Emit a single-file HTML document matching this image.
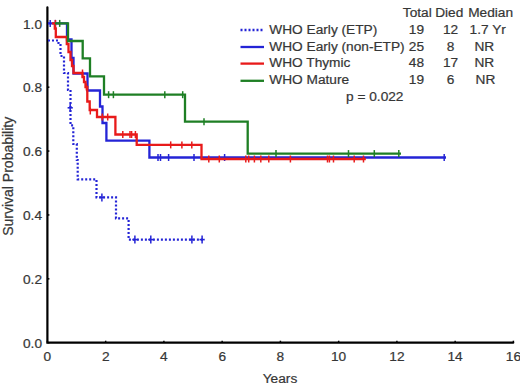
<!DOCTYPE html>
<html><head><meta charset="utf-8"><style>
html,body{margin:0;padding:0;background:#fff;}
body{width:520px;height:389px;overflow:hidden;}
svg{display:block;}
text{font-family:"Liberation Sans",sans-serif;font-size:13.7px;fill:#363636;stroke:#363636;stroke-width:0.22px;}
</style></head><body>
<svg width="520" height="389" viewBox="0 0 520 389">
<path d="M47.4,7.3 V342.7 H513.2" fill="none" stroke="#000" stroke-width="2.2" stroke-linecap="round"/><line x1="47.4" y1="342.7" x2="49.4" y2="342.7" stroke="#000" stroke-width="1.5"/><line x1="47.4" y1="278.82" x2="49.4" y2="278.82" stroke="#000" stroke-width="1.5"/><line x1="47.4" y1="214.94" x2="49.4" y2="214.94" stroke="#000" stroke-width="1.5"/><line x1="47.4" y1="151.05999999999997" x2="49.4" y2="151.05999999999997" stroke="#000" stroke-width="1.5"/><line x1="47.4" y1="87.18" x2="49.4" y2="87.18" stroke="#000" stroke-width="1.5"/><line x1="47.4" y1="23.30000000000001" x2="49.4" y2="23.30000000000001" stroke="#000" stroke-width="1.5"/><line x1="47.4" y1="342.7" x2="47.4" y2="340.7" stroke="#000" stroke-width="1.5"/><line x1="105.65" y1="342.7" x2="105.65" y2="340.7" stroke="#000" stroke-width="1.5"/><line x1="163.9" y1="342.7" x2="163.9" y2="340.7" stroke="#000" stroke-width="1.5"/><line x1="222.15" y1="342.7" x2="222.15" y2="340.7" stroke="#000" stroke-width="1.5"/><line x1="280.4" y1="342.7" x2="280.4" y2="340.7" stroke="#000" stroke-width="1.5"/><line x1="338.65" y1="342.7" x2="338.65" y2="340.7" stroke="#000" stroke-width="1.5"/><line x1="396.9" y1="342.7" x2="396.9" y2="340.7" stroke="#000" stroke-width="1.5"/><line x1="455.15" y1="342.7" x2="455.15" y2="340.7" stroke="#000" stroke-width="1.5"/><line x1="513.4" y1="342.7" x2="513.4" y2="340.7" stroke="#000" stroke-width="1.5"/><text x="42" y="347.9" text-anchor="end">0.0</text><text x="42" y="284.0" text-anchor="end">0.2</text><text x="42" y="220.1" text-anchor="end">0.4</text><text x="42" y="156.3" text-anchor="end">0.6</text><text x="42" y="92.4" text-anchor="end">0.8</text><text x="42" y="28.5" text-anchor="end">1.0</text><text x="47.4" y="361" text-anchor="middle">0</text><text x="105.7" y="361" text-anchor="middle">2</text><text x="163.9" y="361" text-anchor="middle">4</text><text x="222.2" y="361" text-anchor="middle">6</text><text x="280.4" y="361" text-anchor="middle">8</text><text x="338.6" y="361" text-anchor="middle">10</text><text x="396.9" y="361" text-anchor="middle">12</text><text x="455.1" y="361" text-anchor="middle">14</text><text x="513.4" y="361" text-anchor="middle">16</text><text x="280" y="383" text-anchor="middle">Years</text><text transform="translate(13.3,176.3) rotate(-90)" text-anchor="middle" style="font-size:14px">Survival Probability</text><path d="M48,23.4 H67 V39.5 H71.5 V58 H73.5 V73.5 H87.5 V90.5 H100 V106.5 H102.5 V123 H106.4 V140.7 H149.4 V157.5 H446" fill="none" stroke="#2424d6" stroke-width="2.3"/><line x1="50.2" y1="19.9" x2="50.2" y2="26.9" stroke="#2424d6" stroke-width="1.5"/><line x1="55.4" y1="19.9" x2="55.4" y2="26.9" stroke="#2424d6" stroke-width="1.5"/><line x1="158" y1="154.0" x2="158" y2="161.0" stroke="#2424d6" stroke-width="1.5"/><line x1="160.5" y1="154.0" x2="160.5" y2="161.0" stroke="#2424d6" stroke-width="1.5"/><line x1="168.6" y1="154.0" x2="168.6" y2="161.0" stroke="#2424d6" stroke-width="1.5"/><line x1="194" y1="154.0" x2="194" y2="161.0" stroke="#2424d6" stroke-width="1.5"/><line x1="224.6" y1="154.0" x2="224.6" y2="161.0" stroke="#2424d6" stroke-width="1.5"/><line x1="444.2" y1="154.0" x2="444.2" y2="161.0" stroke="#2424d6" stroke-width="1.5"/><path d="M52,23.4 H54.8 V28.5 H55.8 V37 H66.8 V44 H68.5 V52 H70.5 V60 H72 V66 H73.5 V73 H82.5 V77 H84 V82 H85.5 V87 H87.3 V101.5 H89.7 V110 H97 V117 H115.4 V134.5 H136.7 V144.9 H201.5 V159 H365.8" fill="none" stroke="#e81a1a" stroke-width="2.3"/><line x1="55.4" y1="19.9" x2="55.4" y2="26.9" stroke="#e81a1a" stroke-width="1.5"/><line x1="82.5" y1="69.5" x2="82.5" y2="76.5" stroke="#e81a1a" stroke-width="1.5"/><line x1="86.4" y1="83.5" x2="86.4" y2="90.5" stroke="#e81a1a" stroke-width="1.5"/><line x1="90.3" y1="107.5" x2="90.3" y2="114.5" stroke="#e81a1a" stroke-width="1.5"/><line x1="102.3" y1="113.5" x2="102.3" y2="120.5" stroke="#e81a1a" stroke-width="1.5"/><line x1="107.7" y1="113.5" x2="107.7" y2="120.5" stroke="#e81a1a" stroke-width="1.5"/><line x1="122.8" y1="131.0" x2="122.8" y2="138.0" stroke="#e81a1a" stroke-width="1.5"/><line x1="130" y1="131.0" x2="130" y2="138.0" stroke="#e81a1a" stroke-width="1.5"/><line x1="131.6" y1="131.0" x2="131.6" y2="138.0" stroke="#e81a1a" stroke-width="1.5"/><line x1="135.4" y1="131.0" x2="135.4" y2="138.0" stroke="#e81a1a" stroke-width="1.5"/><line x1="170.7" y1="141.4" x2="170.7" y2="148.4" stroke="#e81a1a" stroke-width="1.5"/><line x1="181.9" y1="141.4" x2="181.9" y2="148.4" stroke="#e81a1a" stroke-width="1.5"/><line x1="191.8" y1="141.4" x2="191.8" y2="148.4" stroke="#e81a1a" stroke-width="1.5"/><line x1="208.8" y1="155.5" x2="208.8" y2="162.5" stroke="#e81a1a" stroke-width="1.5"/><line x1="219.3" y1="155.5" x2="219.3" y2="162.5" stroke="#e81a1a" stroke-width="1.5"/><line x1="245.8" y1="155.5" x2="245.8" y2="162.5" stroke="#e81a1a" stroke-width="1.5"/><line x1="248.7" y1="155.5" x2="248.7" y2="162.5" stroke="#e81a1a" stroke-width="1.5"/><line x1="254.4" y1="155.5" x2="254.4" y2="162.5" stroke="#e81a1a" stroke-width="1.5"/><line x1="260.8" y1="155.5" x2="260.8" y2="162.5" stroke="#e81a1a" stroke-width="1.5"/><line x1="268.8" y1="155.5" x2="268.8" y2="162.5" stroke="#e81a1a" stroke-width="1.5"/><line x1="290.4" y1="155.5" x2="290.4" y2="162.5" stroke="#e81a1a" stroke-width="1.5"/><line x1="327.5" y1="155.5" x2="327.5" y2="162.5" stroke="#e81a1a" stroke-width="1.5"/><line x1="329.4" y1="155.5" x2="329.4" y2="162.5" stroke="#e81a1a" stroke-width="1.5"/><line x1="333.5" y1="155.5" x2="333.5" y2="162.5" stroke="#e81a1a" stroke-width="1.5"/><line x1="354.2" y1="155.5" x2="354.2" y2="162.5" stroke="#e81a1a" stroke-width="1.5"/><line x1="363.5" y1="155.5" x2="363.5" y2="162.5" stroke="#e81a1a" stroke-width="1.5"/><path d="M55,23.4 H68 V41 H82.7 V58.3 H90 V76.3 H104 V94.7 H185 V121.7 H247.7 V153.6 H401" fill="none" stroke="#1e7f24" stroke-width="2.3"/><line x1="59.7" y1="19.9" x2="59.7" y2="26.9" stroke="#1e7f24" stroke-width="1.5"/><line x1="108.6" y1="91.2" x2="108.6" y2="98.2" stroke="#1e7f24" stroke-width="1.5"/><line x1="113.4" y1="91.2" x2="113.4" y2="98.2" stroke="#1e7f24" stroke-width="1.5"/><line x1="164.8" y1="91.2" x2="164.8" y2="98.2" stroke="#1e7f24" stroke-width="1.5"/><line x1="182.7" y1="91.2" x2="182.7" y2="98.2" stroke="#1e7f24" stroke-width="1.5"/><line x1="204" y1="118.2" x2="204" y2="125.2" stroke="#1e7f24" stroke-width="1.5"/><line x1="276" y1="150.1" x2="276" y2="157.1" stroke="#1e7f24" stroke-width="1.5"/><line x1="348.5" y1="150.1" x2="348.5" y2="157.1" stroke="#1e7f24" stroke-width="1.5"/><line x1="374.3" y1="150.1" x2="374.3" y2="157.1" stroke="#1e7f24" stroke-width="1.5"/><line x1="398.8" y1="150.1" x2="398.8" y2="157.1" stroke="#1e7f24" stroke-width="1.5"/><path d="M48,40.5 H58.5 V43 H60.5 V56 H64 V73 H68 V90 H70.5 V125.4 H73.3 V144 H76.8 V160 H77.7 V179.3 H96.5 V197.4 H116 V218.4 H128.6 V239.6 H205" fill="none" stroke="#2424d6" stroke-width="2.2" stroke-dasharray="2 2"/><line x1="70.2" y1="103.8" x2="70.2" y2="111.8" stroke="#2424d6" stroke-width="1.5"/><line x1="67.60000000000001" y1="107.8" x2="72.8" y2="107.8" stroke="#2424d6" stroke-width="1.6"/><line x1="101.9" y1="193.4" x2="101.9" y2="201.4" stroke="#2424d6" stroke-width="1.5"/><line x1="99.30000000000001" y1="197.4" x2="104.5" y2="197.4" stroke="#2424d6" stroke-width="1.6"/><line x1="134.9" y1="235.6" x2="134.9" y2="243.6" stroke="#2424d6" stroke-width="1.5"/><line x1="132.3" y1="239.6" x2="137.5" y2="239.6" stroke="#2424d6" stroke-width="1.6"/><line x1="150.8" y1="235.6" x2="150.8" y2="243.6" stroke="#2424d6" stroke-width="1.5"/><line x1="148.20000000000002" y1="239.6" x2="153.4" y2="239.6" stroke="#2424d6" stroke-width="1.6"/><line x1="191.9" y1="235.6" x2="191.9" y2="243.6" stroke="#2424d6" stroke-width="1.5"/><line x1="189.3" y1="239.6" x2="194.5" y2="239.6" stroke="#2424d6" stroke-width="1.6"/><line x1="202.1" y1="235.6" x2="202.1" y2="243.6" stroke="#2424d6" stroke-width="1.5"/><line x1="199.5" y1="239.6" x2="204.7" y2="239.6" stroke="#2424d6" stroke-width="1.6"/><line x1="240.5" y1="30.0" x2="264" y2="30.0" stroke="#2424d6" stroke-width="2.3" stroke-dasharray="2 2"/><line x1="240.5" y1="47.0" x2="264" y2="47.0" stroke="#2424d6" stroke-width="2.3"/><line x1="240.5" y1="63.6" x2="264" y2="63.6" stroke="#e81a1a" stroke-width="2.3"/><line x1="240.5" y1="80.8" x2="264" y2="80.8" stroke="#1e7f24" stroke-width="2.3"/><text x="269.3" y="33.8">WHO Early (ETP)</text><text x="416.4" y="33.8" text-anchor="middle">19</text><text x="450.5" y="33.8" text-anchor="middle">12</text><text x="487.7" y="33.8" text-anchor="middle">1.7 Yr</text><text x="269.3" y="50.5">WHO Early (non-ETP)</text><text x="416.4" y="50.5" text-anchor="middle">25</text><text x="450.5" y="50.5" text-anchor="middle">8</text><text x="484.3" y="50.5" text-anchor="middle">NR</text><text x="269.3" y="66.8">WHO Thymic</text><text x="416.4" y="66.8" text-anchor="middle">48</text><text x="450.5" y="66.8" text-anchor="middle">17</text><text x="484.3" y="66.8" text-anchor="middle">NR</text><text x="269.3" y="83.5">WHO Mature</text><text x="416.4" y="83.5" text-anchor="middle">19</text><text x="450.5" y="83.5" text-anchor="middle">6</text><text x="485.5" y="83.5" text-anchor="middle">NR</text><text x="402.8" y="16.6">Total</text><text x="435.2" y="16.6">Died</text><text x="468.2" y="16.6">Median</text><text x="346" y="101.2">p = 0.022</text>
</svg>
</body></html>
